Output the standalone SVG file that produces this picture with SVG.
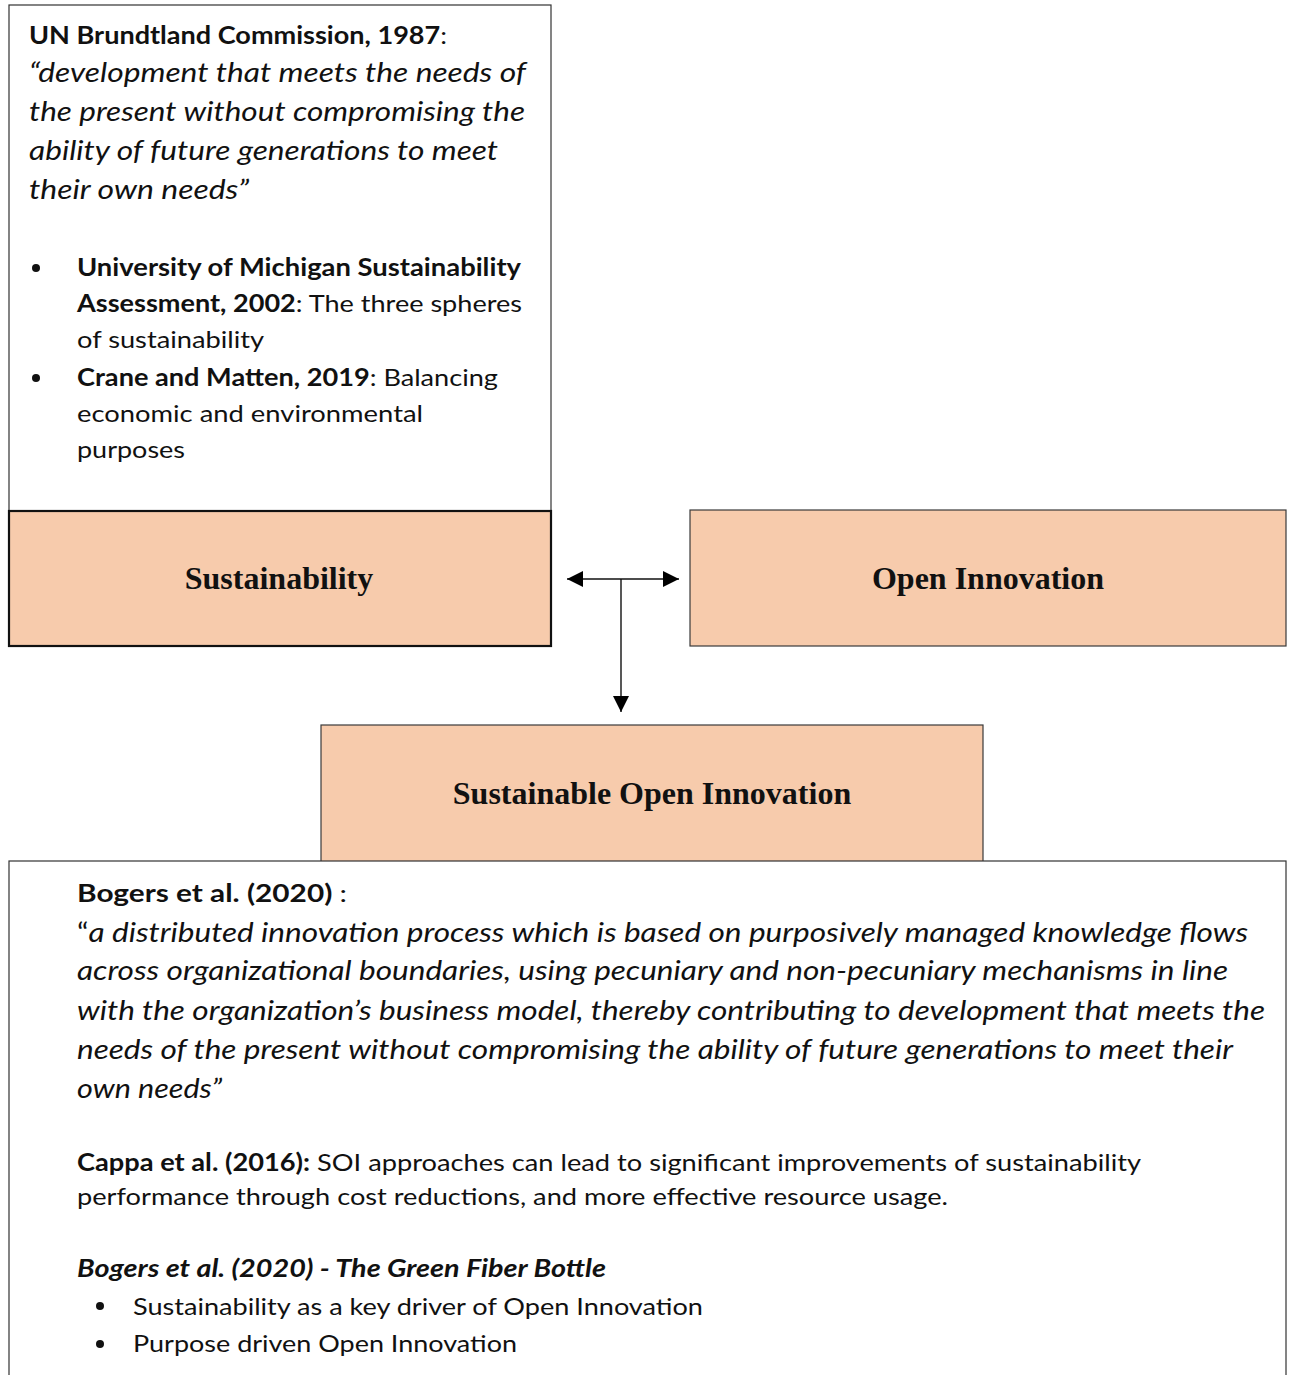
<svg xmlns="http://www.w3.org/2000/svg" width="1293" height="1375" viewBox="0 0 1293 1375">
<style>
.box{fill:#ffffff;stroke:#333333;stroke-width:1.2}
.node{fill:#F7CBAC;stroke:#3a3a3a;stroke-width:1.2}
.nodeb{fill:#F7CBAC;stroke:#111111;stroke-width:2.2}
.lbl{font-family:"Liberation Serif","Times New Roman",serif;font-weight:bold;font-size:32px;fill:#111;text-anchor:middle}
.t{font-family:Lato,"Liberation Sans",sans-serif;font-size:24px;fill:#111}
.q{font-family:Lato,"Liberation Sans",sans-serif;font-size:27px;font-style:italic;fill:#111}
.b{font-weight:bold}
.conn{stroke:#111;stroke-width:1.4;fill:none}
</style>
<defs>
<marker id="ah" viewBox="0 0 16 16" refX="16" refY="8" markerWidth="16" markerHeight="16" markerUnits="userSpaceOnUse" orient="auto-start-reverse">
<path d="M0,0 L16,8 L0,16 Z" fill="#000"/>
</marker>
</defs>

<g id="definition-box">
<rect class="box" x="9" y="5" width="542" height="507"/>
<text class="t b" x="29" y="44" textLength="418" lengthAdjust="spacingAndGlyphs">UN Brundtland Commission, 1987<tspan font-weight="normal">:</tspan></text>
<text class="q" x="29" y="82" textLength="497" lengthAdjust="spacingAndGlyphs">“development that meets the needs of</text>
<text class="q" x="29" y="121" textLength="496" lengthAdjust="spacingAndGlyphs">the present without compromising the</text>
<text class="q" x="29" y="160" textLength="469" lengthAdjust="spacingAndGlyphs">ability of future generations to meet</text>
<text class="q" x="29" y="199" textLength="220" lengthAdjust="spacingAndGlyphs">their own needs”</text>
<circle cx="36" cy="268" r="4" fill="#111"/>
<text class="t" x="77" y="276" textLength="444" lengthAdjust="spacingAndGlyphs"><tspan class="b">University of Michigan Sustainability</tspan></text>
<text class="t" x="77" y="312" textLength="445" lengthAdjust="spacingAndGlyphs"><tspan class="b">Assessment, 2002</tspan>: The three spheres</text>
<text class="t" x="77" y="348" textLength="187" lengthAdjust="spacingAndGlyphs">of sustainability</text>
<circle cx="36" cy="378" r="4" fill="#111"/>
<text class="t" x="77" y="386" textLength="421" lengthAdjust="spacingAndGlyphs"><tspan class="b">Crane and Matten, 2019</tspan>: Balancing</text>
<text class="t" x="77" y="422" textLength="346" lengthAdjust="spacingAndGlyphs">economic and environmental</text>
<text class="t" x="77" y="458" textLength="108" lengthAdjust="spacingAndGlyphs">purposes</text>
</g>

<g id="sustainability">
<rect class="nodeb" x="9" y="511" width="542" height="135"/>
<text class="lbl" x="279" y="589">Sustainability</text>
</g>

<g id="open-innovation">
<rect class="node" x="690" y="510" width="596" height="136"/>
<text class="lbl" x="988" y="589">Open Innovation</text>
</g>

<g id="sustainable-open-innovation">
<rect class="node" x="321" y="725" width="662" height="140"/>
<text class="lbl" x="652" y="804">Sustainable Open Innovation</text>
</g>

<g id="connectors">
<line class="conn" x1="567" y1="579" x2="679" y2="579" marker-start="url(#ah)" marker-end="url(#ah)"/>
<line class="conn" x1="621" y1="579" x2="621" y2="712" marker-end="url(#ah)"/>
</g>

<g id="soi-details">
<rect class="box" x="9" y="861" width="1277" height="530"/>
<text class="t b" x="77" y="902" font-size="26" textLength="270" lengthAdjust="spacingAndGlyphs">Bogers et al. (2020) <tspan font-weight="normal">:</tspan></text>
<text class="q" x="77" y="942" textLength="1171" lengthAdjust="spacingAndGlyphs"><tspan font-style="normal">“</tspan>a distributed innovation process which is based on purposively managed knowledge flows</text>
<text class="q" x="77" y="980" textLength="1151" lengthAdjust="spacingAndGlyphs">across organizational boundaries, using pecuniary and non-pecuniary mechanisms in line</text>
<text class="q" x="77" y="1020" textLength="1188" lengthAdjust="spacingAndGlyphs">with the organization’s business model, thereby contributing to development that meets the</text>
<text class="q" x="77" y="1059" textLength="1156" lengthAdjust="spacingAndGlyphs">needs of the present without compromising the ability of future generations to meet their</text>
<text class="q" x="77" y="1098" textLength="145" lengthAdjust="spacingAndGlyphs">own needs”</text>
<text class="t" x="77" y="1171" textLength="1064" lengthAdjust="spacingAndGlyphs"><tspan class="b">Cappa et al. (2016):</tspan> SOI approaches can lead to significant improvements of sustainability</text>
<text class="t" x="77" y="1205" textLength="871" lengthAdjust="spacingAndGlyphs">performance through cost reductions, and more effective resource usage.</text>
<text class="t b" x="77" y="1277" font-style="italic" textLength="529" lengthAdjust="spacingAndGlyphs">Bogers et al. (2020) - The Green Fiber Bottle</text>
<circle cx="100" cy="1306" r="4" fill="#111"/>
<text class="t" x="133" y="1315" textLength="570" lengthAdjust="spacingAndGlyphs">Sustainability as a key driver of Open Innovation</text>
<circle cx="100" cy="1344" r="4" fill="#111"/>
<text class="t" x="133" y="1352" textLength="384" lengthAdjust="spacingAndGlyphs">Purpose driven Open Innovation</text>
</g>
</svg>
